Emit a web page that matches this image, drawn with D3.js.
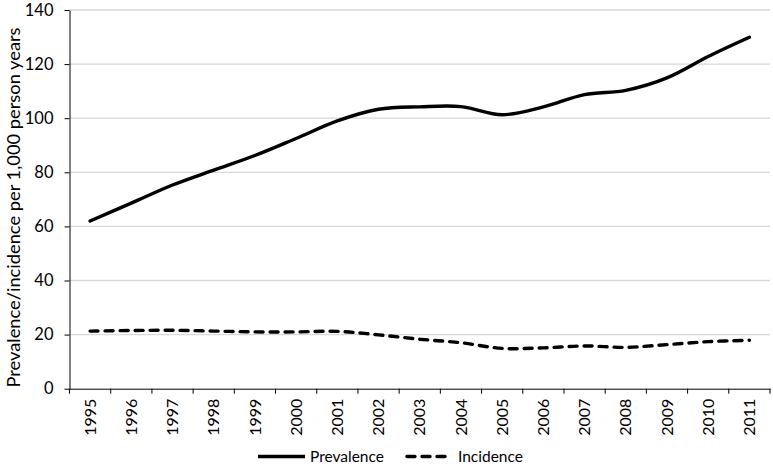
<!DOCTYPE html>
<html><head><meta charset="utf-8">
<script src="https://cdn.jsdelivr.net/npm/d3@7"></script>
<style>body{margin:0;background:#fff}svg{display:block}text{font-family:Lato,"Open Sans",sans-serif;fill:#000}</style>
</head><body><svg id="c" width="773" height="467"></svg>
<script>
const years = ["1995","1996","1997","1998","1999","2000","2001","2002","2003","2004","2005","2006","2007","2008","2009","2010","2011"];
const prevalence = [62.0,68.6,75.3,80.8,86.2,92.5,99.0,103.3,104.2,104.3,101.3,104.2,108.7,110.3,114.9,122.8,129.9];
const incidence = [21.3,21.5,21.6,21.3,21.0,21.0,21.2,19.9,18.3,17.0,14.9,15.1,15.8,15.3,16.3,17.4,17.9];
const yTicks = [0,20,40,60,80,100,120,140];
const seriesNames = ["Prevalence","Incidence"];

const FONT = "Lato,'Open Sans',sans-serif";
const svg = d3.select("#c");
const m = {l:69.5, r:3, t:10, b:78};
const W = 773, H = 467;
const x = d3.scaleBand().domain(years).range([m.l, W - m.r]);
const y = d3.scaleLinear().domain([0,140]).range([388.7, m.t]);

// gridlines
svg.append("g").selectAll("line").data(yTicks.filter(d=>d>0)).join("line")
  .attr("x1", m.l).attr("x2", W - m.r)
  .attr("y1", d=>y(d)).attr("y2", d=>y(d))
  .attr("stroke", "#d9d9d9").attr("stroke-width", 1.3);

// y axis
const ya = svg.append("g").attr("transform", `translate(${m.l},0)`)
  .call(d3.axisLeft(y).tickValues(yTicks).tickSize(5).tickPadding(11).tickSizeOuter(0));
ya.select(".domain").attr("stroke", "#000");
ya.selectAll(".tick line").attr("stroke", "#000");
ya.selectAll("text").style("font-size", "16.5px").style("font-family", FONT);

// x axis
const xa = svg.append("g").attr("transform", `translate(0,${y(0)})`)
  .call(d3.axisBottom(x).tickSize(0).tickSizeOuter(0));
xa.select(".domain").attr("stroke", "#000");
xa.selectAll(".tick text").attr("transform", "rotate(-90)").attr("x", -10).attr("y", 0).attr("dy", "0.35em")
  .attr("text-anchor", "end").style("font-size", "16px").style("font-family", FONT);
// boundary ticks
const bounds = years.map(d => x(d)).concat([x(years[years.length-1]) + x.bandwidth()]);
svg.append("g").selectAll("line").data(bounds).join("line")
  .attr("x1", d=>d).attr("x2", d=>d).attr("y1", y(0)).attr("y2", y(0)+5)
  .attr("stroke", "#000");

const cx = d => x(d) + x.bandwidth()/2;
const line = d3.line().x((d,i)=>cx(years[i])).y(d=>y(d)).curve(d3.curveCatmullRom.alpha(0.5));

svg.append("path").datum(prevalence).attr("d", line).attr("fill","none")
  .attr("stroke","#000").attr("stroke-width",3.4).attr("stroke-linejoin","round").attr("stroke-linecap","round");
svg.append("path").datum(incidence).attr("d", line).attr("fill","none")
  .attr("stroke","#000").attr("stroke-width",3.4).attr("stroke-dasharray","8,7").attr("stroke-linecap","round");

// y title
svg.append("text").attr("transform", `translate(14,${(27+388)/2}) rotate(-90)`)
  .attr("text-anchor","middle").attr("dy","0.35em").style("font-size","18px")
  .attr("textLength", 360).attr("lengthAdjust","spacingAndGlyphs")
  .text("Prevalence/incidence per 1,000 person years");

// legend
const lg = svg.append("g");
lg.append("line").attr("x1",258).attr("x2",305).attr("y1",456.5).attr("y2",456.5)
  .attr("stroke","#000").attr("stroke-width",3.4);
lg.append("text").attr("x",310).attr("y",456.5).attr("dy","0.35em").style("font-size","15.5px").text(seriesNames[0]);
lg.append("line").attr("x1",407).attr("x2",447).attr("y1",456.5).attr("y2",456.5)
  .attr("stroke","#000").attr("stroke-width",3.4).attr("stroke-dasharray","8,7").attr("stroke-linecap","round");
lg.append("text").attr("x",458).attr("y",456.5).attr("dy","0.35em").style("font-size","15.5px").text(seriesNames[1]);
</script></body></html>
